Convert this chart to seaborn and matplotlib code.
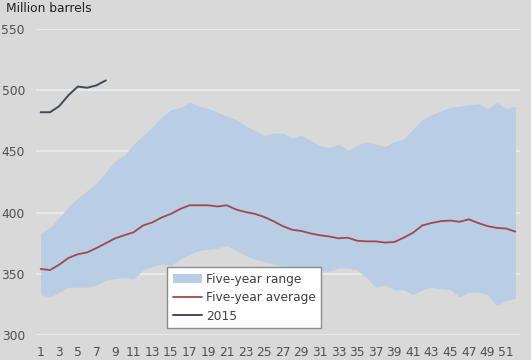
import numpy as np
import pandas as pd
import matplotlib
matplotlib.use('Agg')
import matplotlib.pyplot as plt
import seaborn as sns

weeks = list(range(1, 53))

range_high = [383, 388, 396, 405, 412, 418, 424, 433, 442, 447, 456, 463, 470,
              478, 484, 486, 490, 487, 485, 482, 479, 476, 471, 467, 463, 465,
              465, 461, 463, 459, 455, 453, 456, 451, 455, 458, 456, 454, 458,
              460, 468, 476, 480, 483, 486, 487, 488, 489, 485, 490, 485, 487]
range_low = [333, 331, 335, 339, 339, 339, 341, 345, 346, 347, 346, 353, 356,
             358, 357, 362, 366, 369, 370, 371, 373, 369, 365, 362, 360, 358,
             356, 353, 353, 353, 353, 352, 355, 355, 353, 347, 339, 341, 337,
             337, 333, 337, 339, 338, 337, 331, 335, 335, 333, 324, 328, 330]
avg = [354, 353, 357.5, 363, 366, 367.5, 371, 375, 379, 381.5, 384, 389.5,
       392, 396, 399, 403, 406, 406, 406, 405, 406, 402.5, 400.5, 399, 396.5,
       393, 389, 386, 385, 383, 381.5, 380.5, 379, 379.5, 377, 376.5, 376.5,
       375.5, 376, 379.5, 383.5, 389.5, 391.5, 393, 393.5, 392.5, 394.5, 391.5,
       389, 387.5, 387, 384.5]

weeks_2015 = [1, 2, 3, 4, 5, 6, 7, 8]
stocks_2015 = [482, 482, 487, 496, 503, 502, 504, 508]

df = pd.DataFrame({'week': weeks, 'high': range_high, 'low': range_low, 'avg': avg})
df15 = pd.DataFrame({'week': weeks_2015, 'stocks': stocks_2015})

bg = '#d9d9d9'
fs = 8.8
sns.set_theme(style='white', rc={'axes.facecolor': bg, 'figure.facecolor': bg})
plt.rcParams['font.family'] = ['DejaVu Sans']

fig = plt.figure(figsize=(5.31, 3.60), dpi=100)
ax = fig.add_axes([36 / 531, 1 - 335 / 360, 484 / 531, 306 / 360])

ax.fill_between(df.week, df.low, df.high, color='#b9cde5', lw=0,
                label='Five-year range', zorder=2)
sns.lineplot(data=df, x='week', y='avg', ax=ax, color='#a34848', lw=1.3,
             label='Five-year average', zorder=3)
sns.lineplot(data=df15, x='week', y='stocks', ax=ax, color='#3f4a5c', lw=1.4,
             label='2015', zorder=3)

ax.set_xlim(0.5, 52.5)
ax.set_ylim(300, 550)
ax.set_yticks(range(300, 551, 50))
ax.set_xticks(range(1, 52, 2))
ax.yaxis.grid(True, color='#ededed', lw=1.2, zorder=1)
ax.set_axisbelow(True)
for s in ax.spines.values():
    s.set_visible(False)
ax.tick_params(axis='both', length=0, labelsize=fs, colors='#505050')
ax.tick_params(axis='y', pad=8)
ax.tick_params(axis='x', pad=8)
ax.set_xlabel('')
ax.set_ylabel('')

fig.text(6 / 531, 1 - 8 / 360, 'Million barrels', fontsize=fs, color='#1f1f1f',
         va='center', ha='left')

leg = ax.legend(loc='upper left', bbox_to_anchor=(167 / 531, 1 - 267 / 360),
                bbox_transform=fig.transFigure, borderaxespad=0, fontsize=fs,
                frameon=True, fancybox=False, handlelength=2.4,
                handletextpad=0.35, labelspacing=0.45, borderpad=0.45)
leg.get_frame().set_facecolor('white')
leg.get_frame().set_edgecolor('#8c8c8c')
leg.get_frame().set_linewidth(1.0)
leg.get_frame().set_alpha(1)
for t in leg.get_texts():
    t.set_color('#404040')

fig.savefig('out.png', dpi=100, facecolor=bg)
